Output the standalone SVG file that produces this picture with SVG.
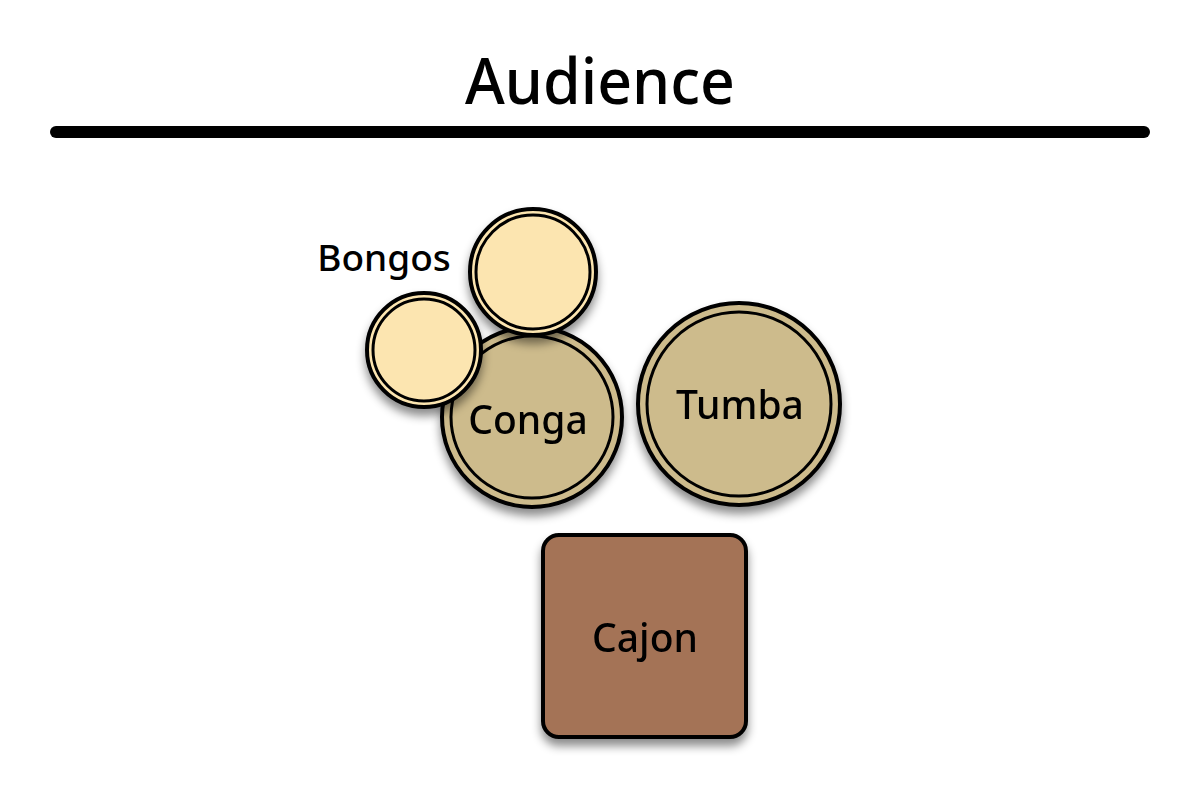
<svg xmlns="http://www.w3.org/2000/svg" width="1200" height="785" viewBox="0 0 1200 785">
<defs>
<filter id="sh" x="-30%" y="-30%" width="160%" height="170%">
<feDropShadow dx="0" dy="7" stdDeviation="5" flood-color="#000" flood-opacity="0.45"/>
</filter>
<style>
.lbl{font-family:"Noto Sans","DejaVu Sans",sans-serif;font-weight:500;fill:#000;text-anchor:middle}
.ring{fill:none;stroke:#000;stroke-width:3}
.outer{stroke:#000;stroke-width:4}
.bongo{fill:#FCE5B0}
.drum{fill:#CDBB8C}
</style>
</defs>
<rect width="1200" height="785" fill="#fff"/>
<g id="audience">
<text class="lbl" x="600" y="104" font-size="64" textLength="270" lengthAdjust="spacingAndGlyphs">Audience</text>
<line x1="56" y1="132" x2="1144" y2="132" stroke="#000" stroke-width="12" stroke-linecap="round"/>
</g>
<g id="conga" filter="url(#sh)">
<circle class="drum outer" cx="532" cy="417" r="90"/>
<circle class="ring" cx="532" cy="417" r="81"/>
<text class="lbl" x="528" y="434" font-size="39">Conga</text>
</g>
<g id="tumba" filter="url(#sh)">
<circle class="drum outer" cx="739" cy="404" r="101"/>
<circle class="ring" cx="739" cy="404" r="92"/>
<text class="lbl" x="740" y="419" font-size="39">Tumba</text>
</g>
<g id="bongo-small" filter="url(#sh)">
<circle class="bongo outer" cx="424" cy="350" r="57"/>
<circle class="ring" cx="424" cy="350" r="51"/>
</g>
<g id="bongo-large" filter="url(#sh)">
<circle class="bongo outer" cx="533" cy="272" r="63"/>
<circle class="ring" cx="533" cy="272" r="57"/>
</g>
<g id="bongos-label">
<text class="lbl" x="384" y="271" font-size="37">Bongos</text>
</g>
<g id="cajon" filter="url(#sh)">
<rect x="543" y="535" width="203" height="202" rx="16" fill="#A47356" stroke="#000" stroke-width="4"/>
<text class="lbl" x="645" y="652" font-size="39">Cajon</text>
</g>
</svg>
